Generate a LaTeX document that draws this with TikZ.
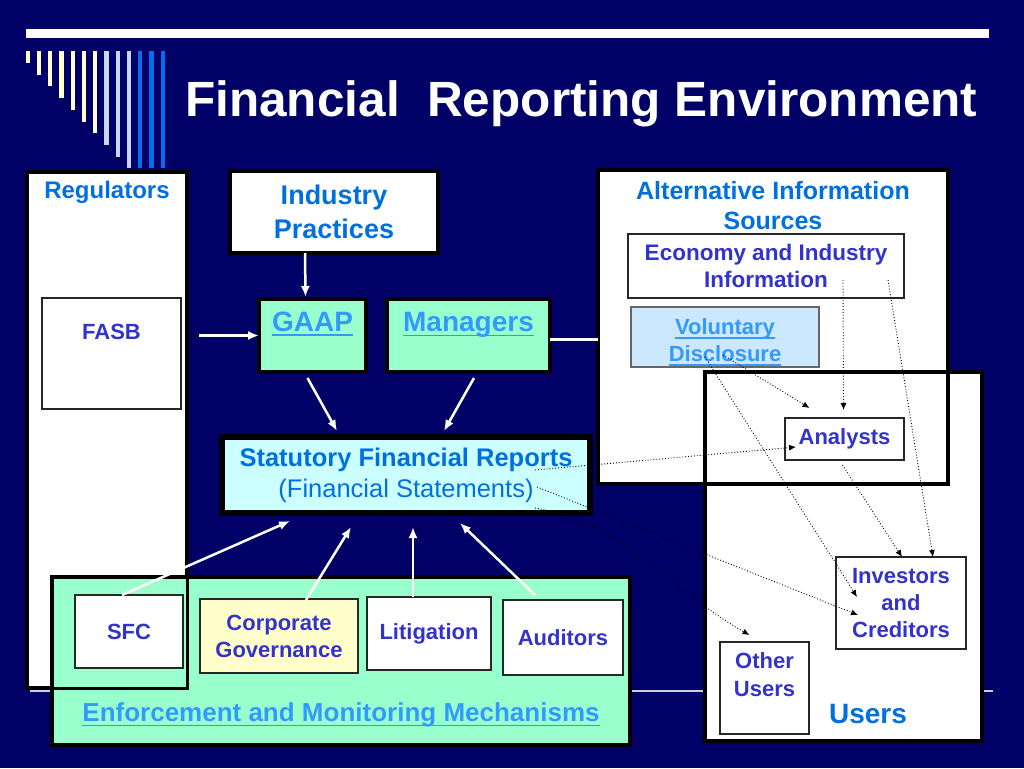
\documentclass[tikz,border=0pt]{standalone}
\usepackage{fontspec}
\setmainfont{Liberation Sans}
\usetikzlibrary{calc,arrows.meta}
\definecolor{navy}{RGB}{0,0,102}
\definecolor{tblue}{RGB}{0,112,224}
\definecolor{iblue}{RGB}{51,51,204}
\definecolor{lblue}{RGB}{51,153,255}
\definecolor{mint}{RGB}{153,255,204}
\definecolor{pcyan}{RGB}{204,255,255}
\definecolor{vfill}{RGB}{204,232,255}
\definecolor{pyellow}{RGB}{255,255,204}
\definecolor{barblue}{RGB}{200,215,245}
\definecolor{barbright}{RGB}{0,112,240}
\newcommand\ulbox[1]{\setbox0\hbox{#1}\rlap{\rule[-4.5pt]{\wd0}{1.6pt}}\box0}

\begin{document}
\begin{tikzpicture}[x=1pt,y=-1pt,
    box/.style={draw=black!85, fill=white, line width=1.2pt, inner sep=0pt, outer sep=0pt,
      align=center, text=iblue, font=\bfseries\fontsize{22}{27}\selectfont},
    heavybox/.style={box, draw=black, line width=3.5pt},
    lab/.style={inner sep=0pt, align=center, font=\bfseries\fontsize{22}{27}\selectfont},
    warrow/.style={draw=white, line width=2.5pt, -{Latex[length=11pt,width=9pt]}},
    darrow/.style={draw=black, dotted, line width=0.9pt, -{Latex[length=7pt,width=6pt]}}]
\useasboundingbox (0,0) rectangle (1024,768);
\fill[navy] (0,0) rectangle (1024,768);
\draw[white!80!navy, line width=1.5pt] (30,691) -- (993,691);
\fill[white] (26,29) rectangle (989,38);
\foreach \i in {0,...,12} {
  \pgfmathsetmacro\bx{27.7+11.25*\i}
  \pgfmathsetmacro\by{min(63+11.7*\i,168)}
  \ifnum\i<7 \def\bc{pyellow}\else\ifnum\i<10 \def\bc{barblue}\else\def\bc{barbright}\fi\fi
  \fill[\bc] (\bx-2.2,51) rectangle (\bx+2.2,\by);
}
\node[anchor=base west, inner sep=0pt, text=white, font=\bfseries\fontsize{49.5}{60}\selectfont] (title) at (185,116) {Financial~ Reporting Environment};

\node[heavybox, minimum width=160, minimum height=516] (reg) at (107,430) {};
\node[lab, text=tblue, font=\bfseries\fontsize{24}{29}\selectfont] (reglab) at (107,192) {Regulators};
\node[box, minimum width=139, minimum height=111] (fasb) at (111.5,353.5) {};
\node[lab, text=iblue] (fasblab) at (111.5,332) {FASB};

\node[heavybox, minimum width=208, minimum height=82, text=tblue, font=\bfseries\fontsize{27}{34}\selectfont] (ind) at (334,212) {Industry\\Practices};
\node[heavybox, fill=mint, minimum width=107, minimum height=73] (gaap) at (312.5,335.5) {};
\node[lab, text=lblue, font=\bfseries\fontsize{28}{34}\selectfont] (gaaplab) at (312.5,324) {\ulbox{GAAP}};
\node[heavybox, fill=mint, minimum width=163, minimum height=73] (mgr) at (468.5,335.5) {};
\node[lab, text=lblue, font=\bfseries\fontsize{28}{34}\selectfont] (mgrlab) at (468.5,325) {\ulbox{Managers}};

\node[heavybox, minimum width=350, minimum height=314] (alt) at (773,327) {};
\node[heavybox, minimum width=277, minimum height=369] (users) at (843.5,556.5) {};
\draw[black, line width=3.5pt] (alt.south west) rectangle (alt.north east);
\node[lab, text=tblue, font=\bfseries\fontsize{25}{30}\selectfont] (altlab) at (773,206) {Alternative Information\\Sources};
\node[box, minimum width=276, minimum height=64, font=\bfseries\fontsize{22.5}{27}\selectfont] (eco) at (766,266) {Economy and Industry\\Information};
\node[box, draw=black!60, fill=vfill, minimum width=188, minimum height=60] (vol) at (725,337) {};
\node[lab, text=lblue] (vollab) at (725,342) {\ulbox{Voluntary}\\\ulbox{Disclosure}};
\node[box, minimum width=119, minimum height=42] (an) at (844.5,439) {Analysts};
\node[box, minimum width=130, minimum height=92] (inv) at (901,603) {Investors\\and\\Creditors};
\node[box, minimum width=89, minimum height=92] (oth) at (764.5,688) {};
\node[lab, text=iblue, font=\bfseries\fontsize{22}{28}\selectfont] (othlab) at (764.5,675) {Other\\Users};
\node[lab, text=tblue, font=\bfseries\fontsize{28}{34}\selectfont] (userslab) at (868,714) {Users};

\node[box, draw=black, line width=6pt, fill=pcyan, minimum width=368, minimum height=76, text=tblue, font=\bfseries\fontsize{25.5}{31}\selectfont] (sfr) at (406,475) {Statutory Financial Reports\\{\mdseries (Financial Statements)}};

\node[heavybox, fill=mint, minimum width=578, minimum height=168] (enf) at (341,661) {};
\draw[black, line width=3pt] (reg.south west) rectangle (reg.north east);
\node[box, minimum width=108, minimum height=73] (sfc) at (129,631.5) {SFC};
\node[box, fill=pyellow, minimum width=158, minimum height=74] (cg) at (279,636) {Corporate\\Governance};
\node[box, minimum width=124, minimum height=73] (lit) at (429,633.5) {Litigation};
\node[box, minimum width=120, minimum height=75] (aud) at (563,637.5) {Auditors};
\node[lab, text=lblue, font=\bfseries\fontsize{26}{31}\selectfont] (enflab) at (341,715) {\ulbox{Enforcement and Monitoring Mechanisms}};

\draw[warrow] ($(ind.south)+(-29,0)$) -- ($(gaap.north)+(-7,-2)$);
\draw[warrow] ($(gaap.west)+(-60,0)$) -- (gaap.west);
\draw[white, line width=2.5pt] ($(mgr.east)+(0,4)$) -- ($(mgr.east -| alt.west)+(0,4)$);
\draw[warrow] ($(gaap.south)+(-5,6)$) -- ($(sfr.north)+(-69,-6)$);
\draw[warrow] ($(mgr.south)+(5.5,6)$) -- ($(sfr.north)+(38,-6)$);
\draw[warrow] ($(sfc.north)+(-7,0)$) -- ($(sfr.south)+(-116,8)$);
\draw[warrow] ($(cg.north)+(27,1)$) -- ($(sfr.south)+(-55,14)$);
\draw[warrow] ($(lit.north)+(-16,0)$) -- ($(sfr.south)+(7,14)$);
\draw[warrow] ($(aud.north)+(-28,-5)$) -- ($(sfr.south)+(54,10)$);

\draw[darrow] ($(sfr.east)+(-55,-5)$) -- ($(an.west)+(11,8)$);
\draw[darrow] ($(vol.south)+(-2,-12)$) -- ($(an.north)+(-35,-10)$);
\draw[darrow] ($(eco.south)+(77,-18)$) -- ($(an.north)+(-1,-8)$);
\draw[darrow] ($(eco.south)+(122,-18)$) -- ($(inv.north)+(32,0)$);
\draw[darrow] ($(vol.south)+(-20,-10)$) -- ($(inv.west)+(21,-6)$);
\draw[darrow] ($(an.south)+(-2,5)$) -- ($(inv.north)+(1,0)$);
\draw[darrow] ($(sfr.east)+(-53,12)$) -- ($(inv.west)+(22,12)$);
\draw[darrow] ($(sfr.east)+(-55,33)$) .. controls ($(sfr.east)+(35,48)$) and ($(oth.north)+(-95,-52)$) .. ($(oth.north)+(-15,-7)$);
\end{tikzpicture}
\end{document}
